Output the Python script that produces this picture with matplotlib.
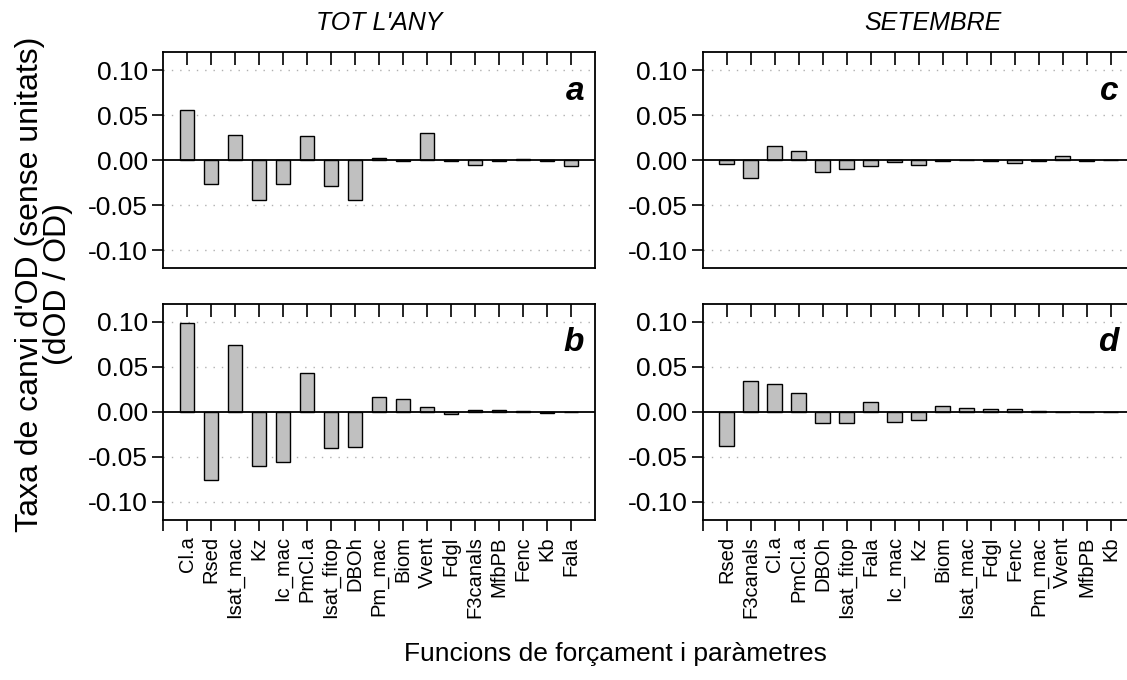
import matplotlib
matplotlib.use("Agg")
import matplotlib.pyplot as plt
import numpy as np

plt.rcParams["font.family"] = ["Liberation Sans", "DejaVu Sans"]

# Sensitivity of dissolved oxygen to each forcing / parameter
labels_year = ["Cl.a", "Rsed", "Isat_mac", "Kz", "Ic_mac", "PmCl.a", "Isat_fitop",
               "DBOh", "Pm_mac", "Biom", "Vvent", "Fdgl", "F3canals", "MfbPB",
               "Fenc", "Kb", "Fala"]
year_a = [0.056, -0.0265, 0.028, -0.044, -0.026, 0.027, -0.029, -0.044, 0.0026,
          -0.001, 0.030, -0.0005, -0.0056, -0.0003, 0.0015, -0.0005, -0.006]
year_b = [0.0989, -0.0754, 0.0743, -0.0608, -0.0563, 0.0425, -0.040, -0.039,
          0.0168, 0.0146, 0.0049, -0.003, 0.0022, 0.0015, 0.001, -0.001, -0.0003]

labels_sep = ["Rsed", "F3canals", "Cl.a", "PmCl.a", "DBOh", "Isat_fitop", "Fala",
              "Ic_mac", "Kz", "Biom", "Isat_mac", "Fdgl", "Fenc", "Pm_mac",
              "Vvent", "MfbPB", "Kb"]
sep_c = [-0.004, -0.0198, 0.0157, 0.0108, -0.0127, -0.0097, -0.0063, -0.0019,
         -0.0056, -0.0005, 0.0005, -0.0003, -0.0026, -0.0003, 0.0048, -0.0003,
         -0.0002]
sep_d = [-0.0377, 0.034, 0.0306, 0.0205, -0.013, -0.012, 0.0112, -0.0116,
         -0.0097, 0.006, 0.0037, 0.0028, 0.0028, 0.0005, 0.0002, -0.0003, -0.0005]

yticks = [-0.10, -0.05, 0.00, 0.05, 0.10]

W, H = 1127, 680
fig = plt.figure(figsize=(W / 100, H / 100), dpi=100)


def px_axes(x0, y0, x1, y1):
    return fig.add_axes([x0 / W, 1 - y1 / H, (x1 - x0) / W, (y1 - y0) / H])


def panel(ax, vals, names, letter, bottom, letter_x):
    pos = np.arange(1, len(vals) + 1)
    ax.bar(pos, vals, width=0.62, color="#c0c0c0", edgecolor="black",
           linewidth=1.0, zorder=3)
    ax.axhline(0, color="black", lw=1.3, zorder=4)
    for v in yticks:
        if v != 0:
            ax.axhline(v, color="#b0b0b0", lw=1.0, ls=(0, (1, 5)), zorder=1)
    ax.set_xlim(0, len(vals) + 1)
    ax.set_ylim(-0.12, 0.12)
    ax.set_yticks(yticks)
    ax.set_yticklabels([f"{v:.2f}" for v in yticks])
    ax.tick_params(axis="y", direction="out", length=8, width=1.2,
                   labelsize=19, pad=3)
    # inward ticks along the top edge
    ax.tick_params(axis="x", which="major", top=True, bottom=False,
                   labeltop=False, labelbottom=False, direction="in",
                   length=9, width=1.2)
    ax.set_xticks(pos)
    if bottom:
        sec = ax.secondary_xaxis("bottom")
        sec.set_xticks(np.arange(0, len(vals) + 1))
        sec.set_xticklabels([""] + names, rotation=90, fontsize=14.5)
        sec.tick_params(direction="out", length=8, width=1.2, pad=4)
        sec.spines["bottom"].set_visible(False)
    for s in ax.spines.values():
        s.set_linewidth(1.3)
    ax.text(letter_x, 0.82, letter, transform=ax.transAxes, ha="right",
            va="center", fontsize=24, fontweight="bold", style="italic")


ax_a = px_axes(163, 52.3, 595, 268.3)
ax_b = px_axes(163, 303.7, 595, 519.7)
ax_c = px_axes(702.7, 52.3, 1134.7, 268.3)
ax_d = px_axes(702.7, 303.7, 1134.7, 519.7)

panel(ax_a, year_a, labels_year, "a", False, 0.975)
panel(ax_b, year_b, labels_year, "b", True, 0.975)
panel(ax_c, sep_c, labels_sep, "c", False, 0.962)
panel(ax_d, sep_d, labels_sep, "d", True, 0.962)

fig.text(379 / W, 1 - 23 / H, "TOT L'ANY", ha="center", va="center",
         fontsize=18, style="italic")
fig.text(933 / W, 1 - 23 / H, "SETEMBRE", ha="center", va="center",
         fontsize=18, style="italic")
fig.text(44 / W, 1 - 284 / H, "Taxa de canvi d'OD (sense unitats)\n(dOD / OD)",
         ha="center", va="center", rotation=90, fontsize=23, linespacing=0.92)
fig.text(615 / W, 1 - 654 / H, "Funcions de forçament i paràmetres",
         ha="center", va="center", fontsize=19)

fig.savefig("out.png", dpi=100)
